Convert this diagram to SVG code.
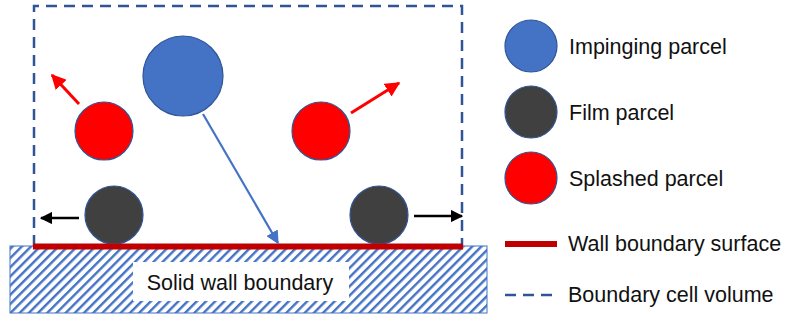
<svg xmlns="http://www.w3.org/2000/svg" width="793" height="320" viewBox="0 0 793 320">
  <defs>
    <pattern id="hatch" patternUnits="userSpaceOnUse" width="6.5" height="6.5" patternTransform="rotate(45)">
      <rect width="6.5" height="6.5" fill="#ffffff"/>
      <rect x="0" y="0" width="2.4" height="6.5" fill="#4472C4"/>
    </pattern>
    <marker id="ahRed" viewBox="0 0 10 10" refX="9" refY="5" markerWidth="5" markerHeight="5" orient="auto" markerUnits="strokeWidth">
      <path d="M0,0 L10,5 L0,10 z" fill="#FF0000"/>
    </marker>
    <marker id="ahBlue" viewBox="0 0 10 10" refX="9" refY="5" markerWidth="6" markerHeight="6" orient="auto" markerUnits="strokeWidth">
      <path d="M0,0 L10,5 L0,10 z" fill="#4472C4"/>
    </marker>
    <marker id="ahBlack" viewBox="0 0 10 10" refX="9" refY="5" markerWidth="5" markerHeight="5" orient="auto" markerUnits="strokeWidth">
      <path d="M0,0 L10,5 L0,10 z" fill="#000000"/>
    </marker>
  </defs>
  <style>
    .lbl { font-family: "Liberation Sans", Arial, sans-serif; font-size: 21.5px; fill: #111111; }
    .imp { fill: #4472C4; stroke: #2F5597; stroke-width: 1.2; }
    .film { fill: #404040; stroke: #2F5597; stroke-width: 1.2; }
    .spl { fill: #FF0000; stroke: #2F5597; stroke-width: 1.2; }
    .cell { fill: none; stroke: #2F5597; stroke-width: 2.5; stroke-dasharray: 11 7; }
    .wallline { stroke: #C00000; stroke-width: 6; }
  </style>

  <!-- solid wall block with hatching -->
  <g id="solid-wall">
    <rect x="10" y="246" width="477" height="67" fill="url(#hatch)" stroke="#4472C4" stroke-width="1"/>
    <rect x="133" y="262" width="216" height="39" fill="#ffffff"/>
    <text class="lbl" x="240" y="290" text-anchor="middle">Solid wall boundary</text>
  </g>

  <!-- boundary cell volume -->
  <g id="cell-volume">
    <path class="cell" d="M34,246 V6 H462 V246"/>
  </g>

  <!-- parcels -->
  <g id="impinging-parcel"><circle class="imp" cx="183" cy="76" r="40"/></g>
  <g id="splashed-left"><circle class="spl" cx="104" cy="131" r="29"/></g>
  <g id="splashed-right"><circle class="spl" cx="321" cy="131" r="29"/></g>
  <g id="film-left"><circle class="film" cx="114" cy="215" r="29"/></g>
  <g id="film-right"><circle class="film" cx="379" cy="215" r="29"/></g>

  <!-- wall boundary surface -->
  <g id="wall-surface">
    <line class="wallline" x1="33" y1="246.5" x2="463" y2="246.5"/>
  </g>

  <!-- motion arrows -->
  <g id="connectors">
    <line x1="79" y1="104" x2="52" y2="75" stroke="#FF0000" stroke-width="3" marker-end="url(#ahRed)"/>
    <line x1="351" y1="113" x2="399" y2="83" stroke="#FF0000" stroke-width="3" marker-end="url(#ahRed)"/>
    <line x1="203" y1="114" x2="278" y2="243" stroke="#4472C4" stroke-width="2.2" marker-end="url(#ahBlue)"/>
    <line x1="79" y1="218" x2="41" y2="218" stroke="#000000" stroke-width="2.5" marker-end="url(#ahBlack)"/>
    <line x1="414" y1="216" x2="462" y2="216" stroke="#000000" stroke-width="2.5" marker-end="url(#ahBlack)"/>
  </g>

  <!-- legend -->
  <g id="legend-impinging">
    <circle class="imp" cx="531" cy="46" r="26"/>
    <text class="lbl" x="569" y="54">Impinging parcel</text>
  </g>
  <g id="legend-film">
    <circle class="film" cx="531" cy="112" r="26"/>
    <text class="lbl" x="569" y="120">Film parcel</text>
  </g>
  <g id="legend-splashed">
    <circle class="spl" cx="531" cy="178" r="26"/>
    <text class="lbl" x="569" y="186">Splashed parcel</text>
  </g>
  <g id="legend-wall">
    <line class="wallline" x1="505" y1="244" x2="557" y2="244"/>
    <text class="lbl" x="568" y="251">Wall boundary surface</text>
  </g>
  <g id="legend-cell">
    <line class="cell" x1="505" y1="295" x2="557" y2="295"/>
    <text class="lbl" x="568" y="302">Boundary cell volume</text>
  </g>
</svg>
